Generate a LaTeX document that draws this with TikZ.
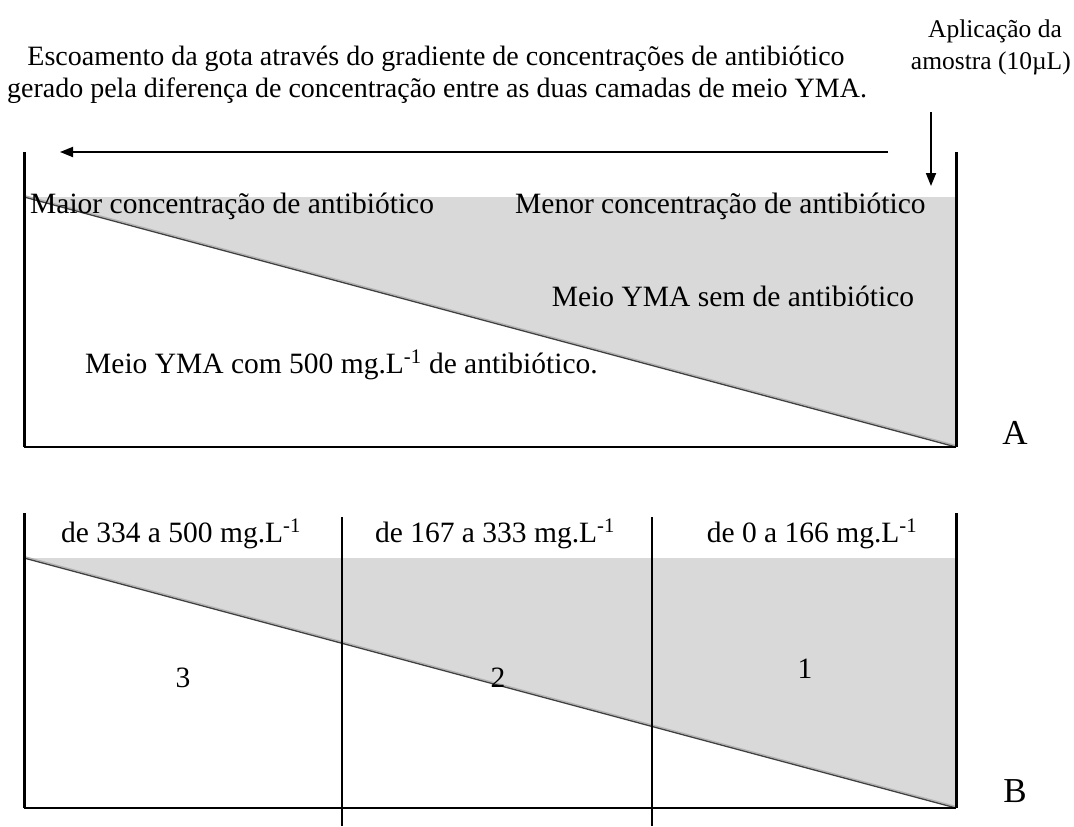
\documentclass[tikz,border=0pt]{standalone}
\usepackage{fontspec}
\setmainfont{Liberation Serif}
\usetikzlibrary{arrows.meta}
\begin{document}
\begin{tikzpicture}[x=1pt,y=-1pt,
  lbl/.style={font=\fontsize{29.5}{32}\selectfont, inner sep=0pt, anchor=base},
  big/.style={font=\fontsize{35}{38}\selectfont, inner sep=0pt, anchor=base},
  desc/.style={font=\fontsize{28}{30}\selectfont, inner sep=0pt, anchor=base},
  note/.style={font=\fontsize{25.5}{28}\selectfont, inner sep=0pt, anchor=base},
  wall/.style={line width=3pt},
  floorline/.style={line width=2pt},
  divider/.style={line width=1.6pt},
  slopeline/.style={line width=1.3pt, draw=black!75},
  shadowline/.style={line width=1.2pt, draw=black!30},
  grayfill/.style={fill=black!15, draw=none},
  arr/.style={line width=1.8pt, -{Triangle[length=13pt,width=10pt]}}
]
\useasboundingbox (0,0) rectangle (1074,827);

% ---------- Part A ----------
\coordinate (Atl) at (24,152);
\coordinate (Abl) at (24,447);
\coordinate (Atr) at (956,152);
\coordinate (Abr) at (956,447);
\coordinate (Agl) at (24,197);
\coordinate (Agr) at (956,197);

\fill[grayfill] (Agl) -- (Agr) -- (Abr) -- cycle;
\draw[shadowline] ([yshift=1.5pt]Agl) -- ([yshift=1.5pt]Abr);
\draw[slopeline] (Agl) -- (Abr);
\draw[floorline] (Abl) -- (Abr);
\draw[wall] (Atl) -- (Abl);
\draw[wall] (Atr) -- (Abr);

% arrows
\coordinate (hs) at (888,152);
\coordinate (he) at (60,152);
\draw[arr] (hs) -- (he);
\coordinate (vs) at (931,112);
\coordinate (ve) at (931,186);
\draw[arr] (vs) -- (ve);

% texts A
\node[desc] (esc) at (436,65) {Escoamento da gota através do gradiente de concentrações de antibiótico};
\node[desc] (ger) at (437,97) {gerado pela diferença de concentração entre as duas camadas de meio YMA.};
\node[note] (apl) at (995,37) {Aplicação da};
\node[note, anchor=base east] (amo) at (1071,69) {amostra (10µL)};
\node[lbl, anchor=base west] (maior) at (30,213) {Maior concentração de antibiótico};
\node[lbl, anchor=base west] (menor) at (515,213) {Menor concentração de antibiótico};
\node[lbl] (sem) at (733,306) {Meio YMA sem de antibiótico};
\node[lbl, anchor=base west] (com) at (85,373) {Meio YMA com 500 mg.L\textsuperscript{-1} de antibiótico.};
\node[big] (labA) at (1015,444) {A};

% ---------- Part B ----------
\coordinate (Btl) at (24,513);
\coordinate (Bbl) at (24,808);
\coordinate (Btr) at (956,513);
\coordinate (Bbr) at (956,808);
\coordinate (Bgl) at (24,558);
\coordinate (Bgr) at (956,558);

\fill[grayfill] (Bgl) -- (Bgr) -- (Bbr) -- cycle;
\draw[shadowline] ([yshift=1.5pt]Bgl) -- ([yshift=1.5pt]Bbr);
\draw[slopeline] (Bgl) -- (Bbr);
\draw[floorline] (Bbl) -- (Bbr);
\draw[wall] (Btl) -- (Bbl);
\draw[wall] (Btr) -- (Bbr);

\coordinate (d1t) at (342,517);
\coordinate (d1b) at (342,826);
\coordinate (d2t) at (652,517);
\coordinate (d2b) at (652,826);
\draw[divider] (d1t) -- (d1b);
\draw[divider] (d2t) -- (d2b);

\node[lbl] (r3) at (181,542) {de 334 a 500 mg.L\textsuperscript{-1}};
\node[lbl] (r2) at (495,542) {de 167 a 333 mg.L\textsuperscript{-1}};
\node[lbl] (r1) at (812,542) {de 0 a 166 mg.L\textsuperscript{-1}};
\node[lbl] (n3) at (183,687) {3};
\node[lbl] (n2) at (498,687) {2};
\node[lbl] (n1) at (805,678) {1};
\node[big] (labB) at (1015,802) {B};
\end{tikzpicture}
\end{document}
